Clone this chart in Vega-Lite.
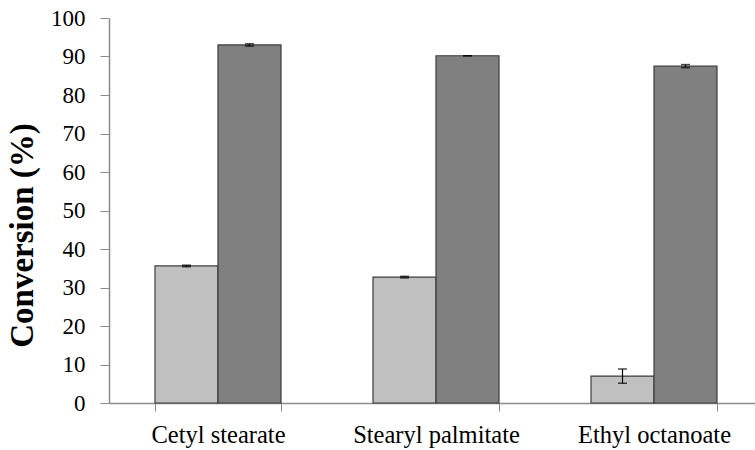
{
  "$schema": "https://vega.github.io/schema/vega-lite/v6.json",
  "width": 646,
  "height": 385,
  "autosize": "none",
  "padding": {"left": 109, "top": 18, "right": 0, "bottom": 47},
  "background": "white",
  "config": {
    "view": {"stroke": null},
    "font": "Liberation Serif",
    "axis": {"labelFont": "Liberation Serif", "titleFont": "Liberation Serif", "labelColor": "black", "titleColor": "black", "domainColor": "#8c8c8c", "tickColor": "#8c8c8c", "grid": false, "labelOverlap": false},
    "axisY": {"titleFontSize": 33, "titleFontWeight": "bold", "titlePadding": 11, "titleY": 217, "labelFontSize": 23, "labelPadding": 15, "tickSize": 9, "domainWidth": 1.5}
  },
  "data": {
    "values": [
      {"ester": "Cetyl stearate", "series": "Series 1", "value": 35.6, "lo": 35.4, "hi": 35.8},
      {"ester": "Cetyl stearate", "series": "Series 2", "value": 93.0, "lo": 92.7, "hi": 93.3},
      {"ester": "Stearyl palmitate", "series": "Series 1", "value": 32.7, "lo": 32.5, "hi": 32.9},
      {"ester": "Stearyl palmitate", "series": "Series 2", "value": 90.2, "lo": 90.2, "hi": 90.2},
      {"ester": "Ethyl octanoate", "series": "Series 1", "value": 7.0, "lo": 5.1, "hi": 8.8},
      {"ester": "Ethyl octanoate", "series": "Series 2", "value": 87.5, "lo": 87.1, "hi": 87.9}
    ]
  },
  "encoding": {
    "x": {
      "field": "ester", "type": "nominal", "sort": null,
      "scale": {"range": [0, 654], "paddingInner": 0.422, "paddingOuter": 0.211},
      "axis": {"title": null, "labelAngle": 0, "labelFontSize": 24.5, "labelPadding": 12, "tickBand": "extent", "tickSize": 8, "domainWidth": 1.5}
    },
    "xOffset": {"field": "series", "type": "nominal", "sort": null, "scale": {"paddingInner": 0, "paddingOuter": 0}}
  },
  "layer": [
    {
      "mark": {"type": "bar", "stroke": "#3c3c3c", "strokeWidth": 1.2},
      "encoding": {
        "y": {
          "field": "value", "type": "quantitative",
          "scale": {"domain": [0, 100], "nice": false},
          "axis": {"title": "Conversion (%)", "values": [0,10,20,30,40,50,60,70,80,90,100]}
        },
        "color": {"field": "series", "type": "nominal", "sort": null, "scale": {"domain": ["Series 1", "Series 2"], "range": ["#c0c0c0", "#808080"]}, "legend": null}
      }
    },
    {
      "mark": {"type": "rule", "color": "black", "strokeWidth": 1.2},
      "encoding": {"y": {"field": "lo", "type": "quantitative", "axis": {"title": "Conversion (%)", "values": [0,10,20,30,40,50,60,70,80,90,100]}}, "y2": {"field": "hi"}}
    },
    {
      "mark": {"type": "tick", "color": "black", "size": 9, "thickness": 1.5},
      "encoding": {"y": {"field": "lo", "type": "quantitative", "axis": {"title": "Conversion (%)", "values": [0,10,20,30,40,50,60,70,80,90,100]}}}
    },
    {
      "mark": {"type": "tick", "color": "black", "size": 9, "thickness": 1.5},
      "encoding": {"y": {"field": "hi", "type": "quantitative", "axis": {"title": "Conversion (%)", "values": [0,10,20,30,40,50,60,70,80,90,100]}}}
    }
  ]
}
